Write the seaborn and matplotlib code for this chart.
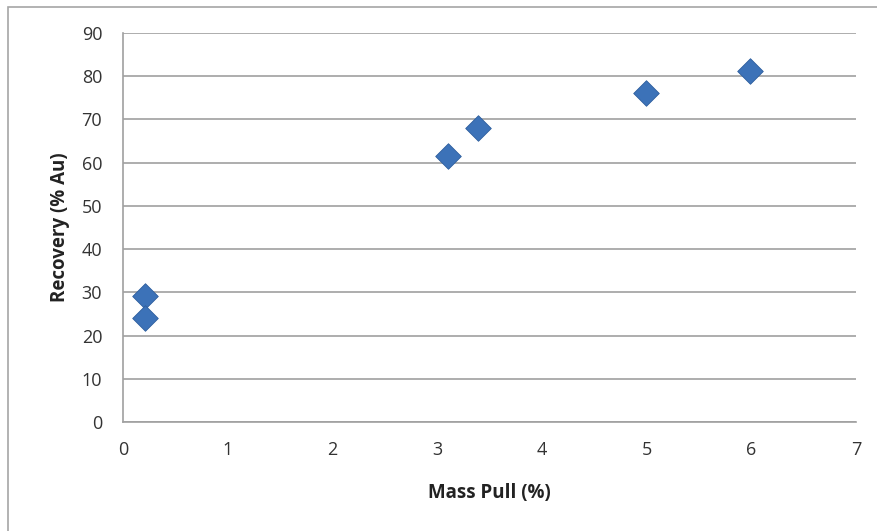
import matplotlib
matplotlib.use("Agg")
import matplotlib.pyplot as plt
import seaborn as sns
import pandas as pd
from matplotlib.patches import Rectangle

mass_pull = [0.21, 0.21, 3.10, 3.39, 4.99, 5.99]
recovery = [29.2, 24.1, 61.5, 68.0, 76.1, 81.2]
x_ticks = [0, 1, 2, 3, 4, 5, 6, 7]
y_ticks = [0, 10, 20, 30, 40, 50, 60, 70, 80, 90]

df = pd.DataFrame({"Mass Pull (%)": mass_pull, "Recovery (% Au)": recovery})

sns.set_theme(style="white")
plt.rcParams['font.family'] = ['Open Sans', 'DejaVu Sans']

fig = plt.figure(figsize=(8.77, 5.31), dpi=100)
fig.patches.append(Rectangle((8/877, -0.01), 1.0, 1 - 7/531 + 0.01, transform=fig.transFigure,
                             fill=False, edgecolor='#a6a6a6', linewidth=1.2))
ax = fig.add_axes([123/877, 1 - 422/531, (856 - 123)/877, (422 - 33)/531])

sns.scatterplot(data=df, x="Mass Pull (%)", y="Recovery (% Au)", ax=ax,
                marker='D', s=170, color='#3c72b8', edgecolor='#2f5f9e', linewidth=0.6,
                zorder=3, legend=False)

ax.set_xlim(0, 7)
ax.set_ylim(0, 90)
ax.set_xticks(x_ticks)
ax.set_yticks(y_ticks)
ax.yaxis.grid(True, color='#a0a0a0', linewidth=1.2)
ax.xaxis.grid(False)
for s in ['top', 'right']:
    ax.spines[s].set_visible(False)
for s in ['left', 'bottom']:
    ax.spines[s].set_color('#a0a0a0')
    ax.spines[s].set_linewidth(1.2)
ax.tick_params(axis='both', length=0, labelsize=13, labelcolor='#333333')
ax.tick_params(axis='x', pad=14)
ax.tick_params(axis='y', pad=15)
ax.set_xlabel("Mass Pull (%)", fontsize=13.5, fontweight='bold', color='#222222', labelpad=17)
ax.set_ylabel("Recovery (% Au)", fontsize=13.5, fontweight='bold', color='#222222', labelpad=8)

fig.savefig("out.png", dpi=100)
